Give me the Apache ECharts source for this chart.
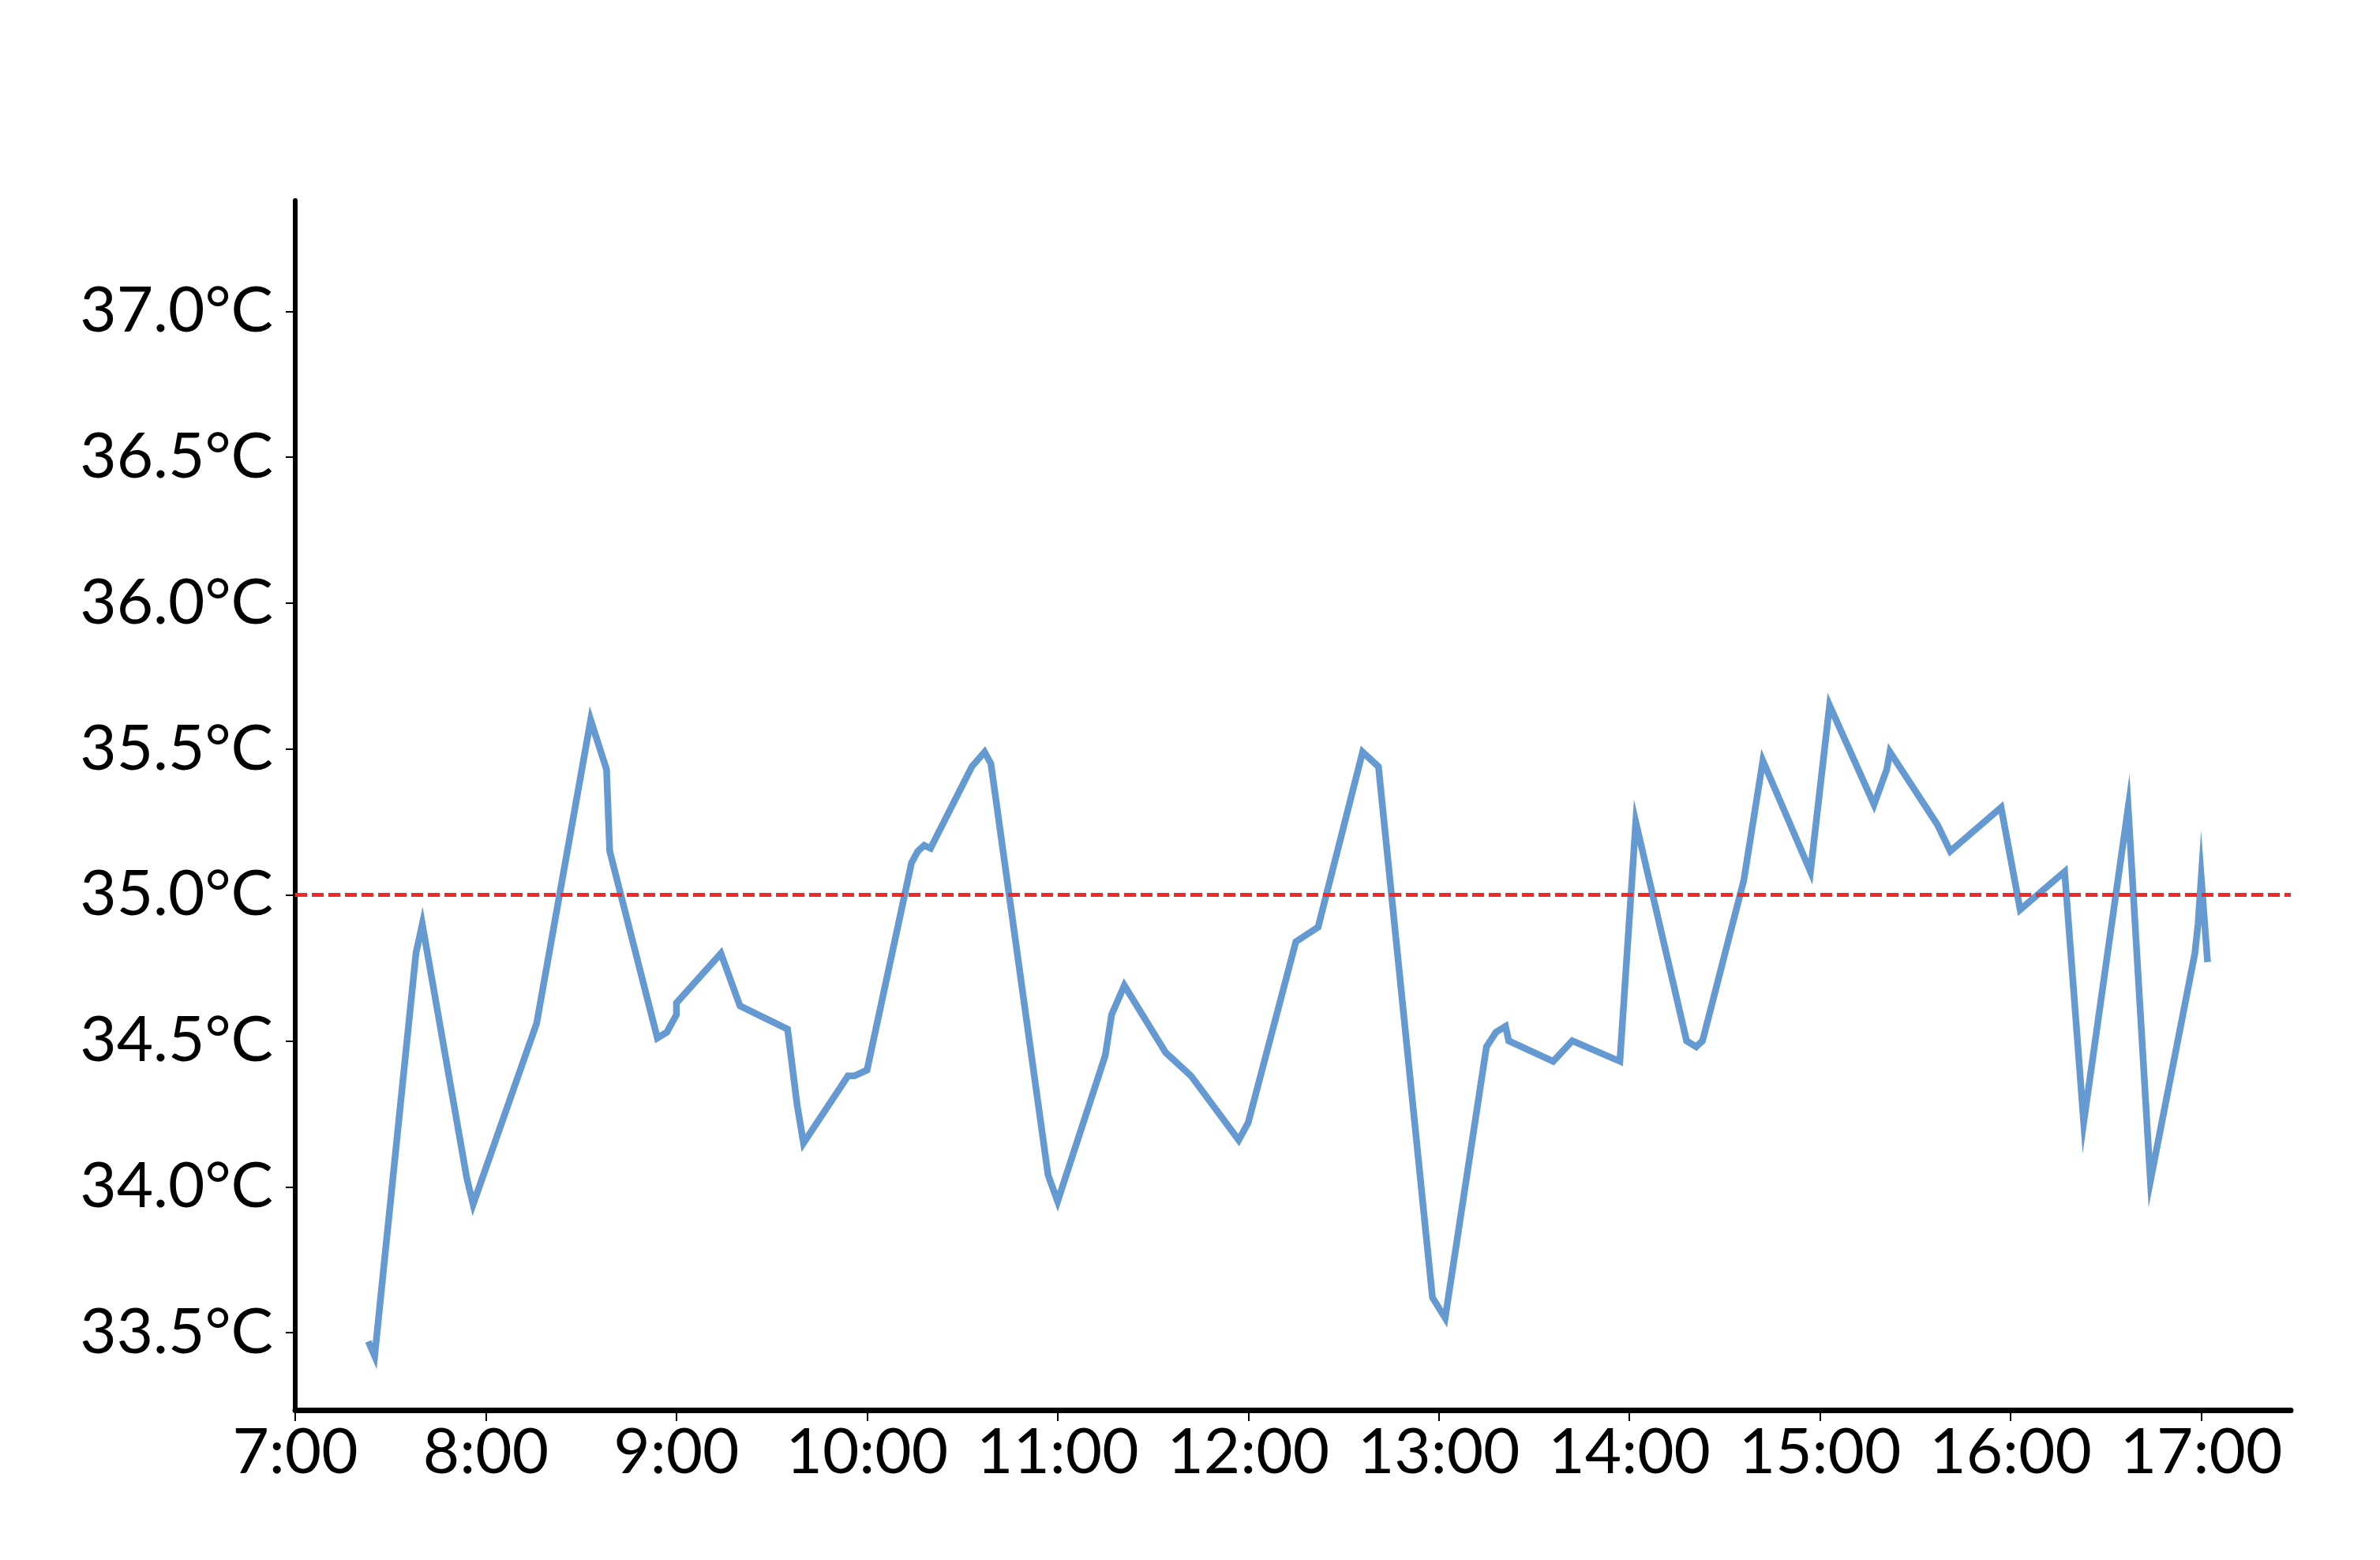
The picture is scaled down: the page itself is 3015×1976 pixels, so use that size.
<!DOCTYPE html>
<html>
<head>
<meta charset="utf-8">
<script src="https://cdn.jsdelivr.net/npm/echarts@6/dist/echarts.min.js"></script>
<style>
html,body{margin:0;padding:0;background:#fff;}
#chart{width:3015px;height:1976px;}
</style>
</head>
<body>
<div id="chart"></div>
<script>
// Sample times (H:MM) and temperatures (°C)
const times = [
  '7:23','7:25','7:38','7:40','7:54','7:56','8:16','8:33','8:38','8:39',
  '8:54','8:57','9:00','9:00','9:14','9:20','9:35','9:38','9:40','9:54',
  '9:56','10:00','10:14','10:16','10:18','10:20','10:33','10:37','10:39','10:57',
  '11:00','11:15','11:17','11:21','11:34','11:42','11:57','12:00','12:15','12:22',
  '12:36','12:41','12:58','13:02','13:15','13:18','13:21','13:22','13:36','13:42',
  '13:57','14:02','14:18','14:21','14:23','14:36','14:42','14:57','15:03','15:17',
  '15:21','15:22','15:37','15:41','15:57','16:03','16:17','16:23','16:37','16:44',
  '16:58','16:59','17:00','17:02'
];
const temps = [
  33.47,33.42,34.80,34.90,34.03,33.94,34.56,35.60,35.43,35.15,
  34.51,34.53,34.59,34.63,34.80,34.62,34.54,34.28,34.15,34.38,
  34.38,34.40,35.11,35.15,35.17,35.16,35.44,35.49,35.45,34.04,
  33.95,34.45,34.59,34.69,34.46,34.38,34.16,34.22,34.84,34.89,
  35.49,35.44,33.62,33.55,34.48,34.53,34.55,34.50,34.43,34.50,
  34.43,35.25,34.50,34.48,34.50,35.05,35.46,35.08,35.65,35.31,
  35.43,35.49,35.24,35.15,35.30,34.95,35.08,34.22,35.30,34.02,
  34.80,34.90,35.06,34.77
];
const threshold = 35.0;
const yTicks = [33.5, 34.0, 34.5, 35.0, 35.5, 36.0, 36.5, 37.0];
const xTicks = [7, 8, 9, 10, 11, 12, 13, 14, 15, 16, 17];

function toHours(s) {
  const p = s.split(':');
  return Number(p[0]) + Number(p[1]) / 60;
}
const seriesData = times.map((t, i) => [toHours(t), temps[i]]);

const FONT = 'Lato';
const chart = echarts.init(document.getElementById('chart'), null, {renderer: 'canvas'});
chart.setOption({
  animation: false,
  backgroundColor: '#ffffff',
  grid: {left: 374, right: 113, top: 254, bottom: 190, containLabel: false},
  xAxis: {
    type: 'value',
    min: 7,
    max: 17.47,
    axisLine: {show: true, onZero: false, lineStyle: {color: '#000', width: 7}},
    axisTick: {show: true, customValues: xTicks, length: 14, lineStyle: {color: '#000', width: 2}},
    axisLabel: {
      customValues: xTicks,
      color: '#000', fontFamily: FONT, fontSize: 80, margin: 14,
      formatter: v => Math.round(v) + ':00'
    },
    splitLine: {show: false}
  },
  yAxis: {
    type: 'value',
    min: 33.235,
    max: 37.38,
    axisLine: {show: true, onZero: false, lineStyle: {color: '#000', width: 6}},
    axisTick: {show: true, customValues: yTicks, length: 12, lineStyle: {color: '#000', width: 2}},
    axisLabel: {
      customValues: yTicks,
      color: '#000', fontFamily: FONT, fontSize: 80, margin: 28,
      formatter: v => v.toFixed(1) + '°C'
    },
    splitLine: {show: false}
  },
  series: [{
    type: 'line',
    data: seriesData,
    showSymbol: false,
    symbol: 'none',
    lineStyle: {color: '#6599d1', width: 8.5, join: 'miter', miterLimit: 20, cap: 'butt'},
    markLine: {
      silent: true,
      symbol: 'none',
      label: {show: false},
      lineStyle: {color: '#ee2a2a', width: 5, type: [15, 6]},
      data: [{yAxis: threshold}]
    }
  }]
});
</script>
</body>
</html>
